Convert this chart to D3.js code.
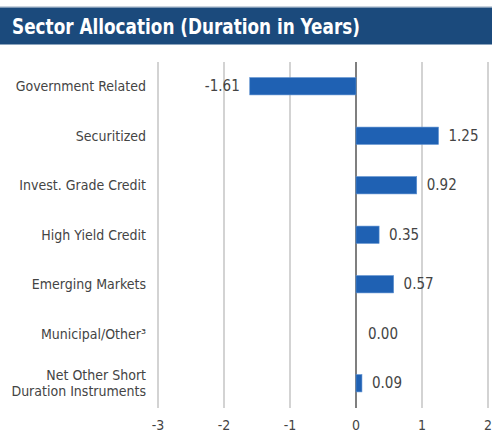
<!DOCTYPE html>
<html>
<head>
<meta charset="utf-8">
<script src="https://cdn.jsdelivr.net/npm/d3@7"></script>
<style>
  body { margin: 0; background: #fff; }
  svg { display: block; }
  text { font-family: "Liberation Sans Narrow", "DejaVu Sans Condensed", sans-serif; }
</style>
</head>
<body>
<svg width="492" height="435"></svg>
<script>
// sector duration data
const sectors = ['Government Related', 'Securitized', 'Invest. Grade Credit', 'High Yield Credit',
  'Emerging Markets', 'Municipal/Other\u00B3', 'Net Other Short|Duration Instruments'];
const durations = [-1.61, 1.25, 0.92, 0.35, 0.57, 0.00, 0.09];
const xTicks = [-3, -2, -1, 0, 1, 2];

const data = sectors.map((s, i) => ({ name: s, value: durations[i] }));

const svg = d3.select('svg');

// title bar
svg.append('rect').attr('x', 0).attr('y', 6).attr('width', 492).attr('height', 1.5).attr('fill', '#c9d3de');
svg.append('rect').attr('x', 0).attr('y', 7.5).attr('width', 492).attr('height', 37).attr('fill', '#1b4a7c');
svg.append('text')
  .attr('x', 12).attr('y', 34)
  .attr('fill', '#fff')
  .attr('font-size', 22)
  .attr('font-weight', 'bold')
  .attr('textLength', 348)
  .attr('lengthAdjust', 'spacingAndGlyphs')
  .text('Sector Allocation (Duration in Years)');

const x = d3.scaleLinear().domain([-3, 2]).range([158, 488]);
const y = d3.scaleBand().domain(sectors).range([61.5, 408]).paddingInner(0.65).paddingOuter(0.325);

// grid
svg.append('g').selectAll('line')
  .data(xTicks)
  .enter().append('line')
    .attr('x1', d => x(d)).attr('x2', d => x(d))
    .attr('y1', 62).attr('y2', 408)
    .attr('stroke', d => d === 0 ? '#555' : '#c4c4c4')
    .attr('stroke-width', 1.5);

// tick labels
svg.append('g').selectAll('text')
  .data(xTicks)
  .enter().append('text')
    .attr('x', d => x(d)).attr('y', 430)
    .attr('text-anchor', 'middle')
    .attr('font-size', 14)
    .attr('fill', '#444')
    .text(d => d);

// bars
svg.append('g').selectAll('rect')
  .data(data.filter(d => d.value !== 0))
  .enter().append('rect')
    .attr('x', d => x(Math.min(0, d.value)))
    .attr('y', d => y(d.name))
    .attr('width', d => Math.abs(x(d.value) - x(0)))
    .attr('height', y.bandwidth())
    .attr('fill', '#1f61b3')
    .attr('stroke', '#5b8fd0')
    .attr('stroke-width', 0.6);

// value labels
svg.append('g').selectAll('text')
  .data(data)
  .enter().append('text')
    .attr('x', d => d.value < 0 ? x(d.value) - 10 : x(d.value) + (d.value === 0 ? 12 : 10))
    .attr('y', d => y(d.name) + y.bandwidth() / 2 + 5)
    .attr('text-anchor', d => d.value < 0 ? 'end' : 'start')
    .attr('font-size', 15)
    .attr('fill', '#444')
    .text(d => d.value.toFixed(2));

// category labels
const cat = svg.append('g').selectAll('text')
  .data(data)
  .enter().append('text')
    .attr('x', 146)
    .attr('y', d => y(d.name) + y.bandwidth() / 2 + 5)
    .attr('text-anchor', 'end')
    .attr('font-size', 14)
    .attr('fill', '#444');

cat.each(function(d) {
  const parts = d.name.split('|');
  const t = d3.select(this);
  parts.forEach((p, i) => {
    t.append('tspan')
      .attr('x', 146)
      .attr('dy', i === 0 ? (parts.length > 1 ? -8 : 0) : 16)
      .text(p);
  });
});
</script>
</body>
</html>
